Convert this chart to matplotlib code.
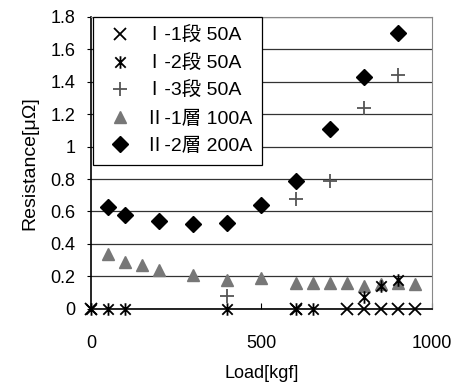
import numpy as np
import matplotlib
matplotlib.use('Agg')
import matplotlib.pyplot as plt
from matplotlib.path import Path

plt.rcParams['font.family'] = ['Liberation Sans', 'Noto Sans CJK JP', 'DejaVu Sans']

# Data
i1_x = [0, 600, 750, 800, 850, 900, 950]
i1_y = [0, 0, 0, 0, 0, 0, 0]

i2_x = [0, 50, 100, 400, 600, 650, 800, 850, 900]
i2_y = [0, 0, 0, 0, 0, 0, 0.07, 0.14, 0.18]

i3_x = [400, 600, 700, 800, 900]
i3_y = [0.08, 0.68, 0.79, 1.24, 1.44]

ii1_x = [50, 100, 150, 200, 300, 400, 500, 600, 650, 700, 750, 800, 850, 900, 950]
ii1_y = [0.34, 0.29, 0.27, 0.24, 0.21, 0.18, 0.19, 0.16, 0.16, 0.16, 0.16, 0.14, 0.15, 0.16, 0.15]

ii2_x = [50, 100, 200, 300, 400, 500, 600, 700, 800, 900]
ii2_y = [0.63, 0.58, 0.54, 0.52, 0.53, 0.64, 0.79, 1.11, 1.43, 1.70]

labels = ['Ⅰ-1段 50A', 'Ⅰ-2段 50A', 'Ⅰ-3段 50A', 'Ⅱ-1層 100A', 'Ⅱ-2層 200A']

# star marker: X with a vertical bar
star = Path([(-1, -1), (1, 1), (-1, 1), (1, -1), (0, -1.2), (0, 1.2)],
            [Path.MOVETO, Path.LINETO, Path.MOVETO, Path.LINETO, Path.MOVETO, Path.LINETO])

fig = plt.figure(figsize=(4.59, 3.85), dpi=100)
ax = fig.add_axes([0.198, 0.198, 0.743, 0.758])

ax.plot(ii1_x, ii1_y, linestyle='none', marker='^', markersize=9, color='#777777',
        label=labels[3], zorder=3, clip_on=False)
ax.plot(ii2_x, ii2_y, linestyle='none', marker='D', markersize=8, color='black',
        label=labels[4], zorder=4, clip_on=False)
ax.plot(i1_x, i1_y, linestyle='none', marker='x', markersize=8, mew=1.3, color='black',
        label=labels[0], zorder=5, clip_on=False)
ax.plot(i2_x, i2_y, linestyle='none', marker=star, markersize=9, mew=1.3, color='black',
        label=labels[1], zorder=5, clip_on=False)
ax.plot(i3_x, i3_y, linestyle='none', marker='+', markersize=10, mew=1.3, color='#555555',
        label=labels[2], zorder=5, clip_on=False)

ax.set_xlim(0, 1000)
ax.set_ylim(0, 1.8)
ax.set_xticks([0, 500, 1000])
ax.set_yticks(np.arange(0, 1.81, 0.2))
ax.set_yticklabels(['0', '0.2', '0.4', '0.6', '0.8', '1', '1.2', '1.4', '1.6', '1.8'])
ax.yaxis.grid(True, color='#333333', linewidth=0.9)
ax.set_axisbelow(True)

ax.tick_params(axis='x', direction='in', length=4, pad=19, labelsize=13)
ax.tick_params(axis='y', direction='out', length=3, pad=8, labelsize=13)
ax.spines['left'].set_color('black')
ax.spines['bottom'].set_color('black')
ax.spines['left'].set_linewidth(1.2)
ax.spines['bottom'].set_linewidth(1.2)
ax.spines['top'].set_color('#888888')
ax.spines['right'].set_color('#888888')

ax.set_xlabel('Load[kgf]', fontsize=13, labelpad=9)
ax.set_ylabel('Resistance[μΩ]', fontsize=14, labelpad=9)

handles, labs = ax.get_legend_handles_labels()
order = [labs.index(l) for l in labels]
leg = ax.legend([handles[i] for i in order], [labs[i] for i in order],
                loc='upper left', bbox_to_anchor=(0.005, 1), borderaxespad=0,
                fontsize=14, frameon=True, fancybox=False, handlelength=1.8,
                handletextpad=0.4, labelspacing=0.5, borderpad=0.5)
leg.get_frame().set_edgecolor('black')
leg.get_frame().set_linewidth(0.9)
leg.get_frame().set_alpha(1)

fig.savefig('out.png', dpi=100)
